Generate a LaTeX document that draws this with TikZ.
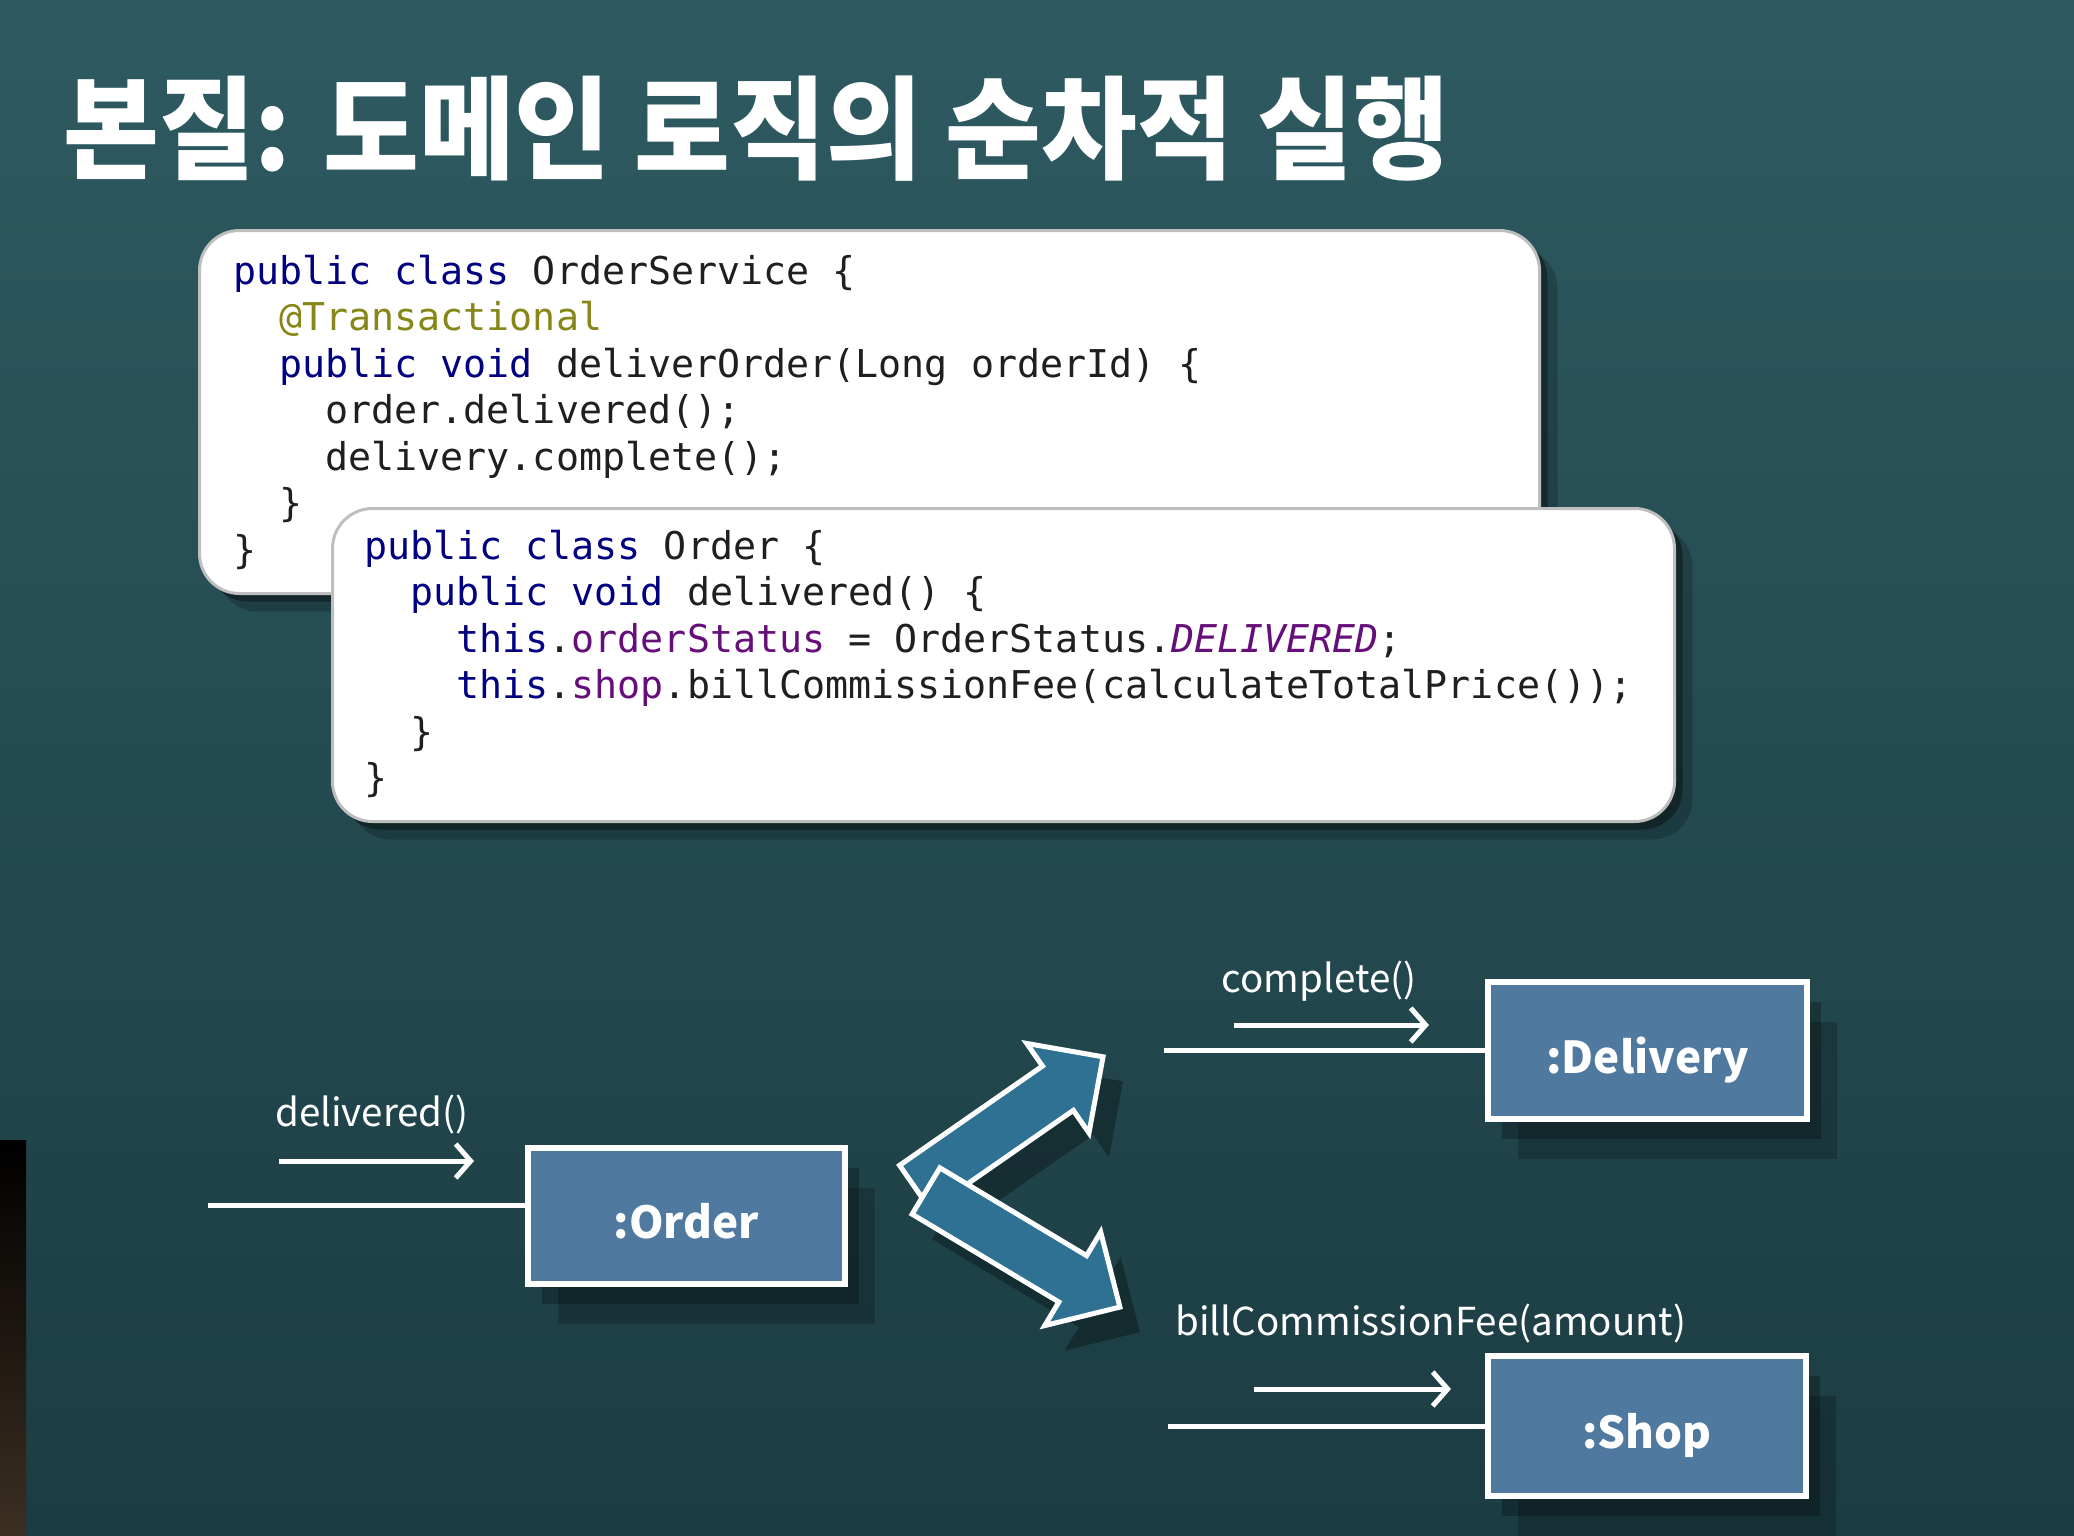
\documentclass[tikz,border=0pt]{standalone}
\usepackage{fontspec}
\usepackage{graphicx}
\usetikzlibrary{arrows.meta,shadows,positioning}
\newfontfamily\krfont{Noto Sans CJK KR}
\newfontfamily\codefont{DejaVu Sans Mono}

\definecolor{bgtop}{RGB}{46,90,97}
\definecolor{bgbot}{RGB}{27,60,66}
\definecolor{stripbrown}{RGB}{60,47,34}
\definecolor{boxblue}{RGB}{80,121,159}
\definecolor{arrowblue}{RGB}{46,113,146}
\definecolor{kwnavy}{RGB}{0,0,128}
\definecolor{fldpurple}{RGB}{102,14,122}
\definecolor{annolive}{RGB}{135,135,25}
\definecolor{codegray}{RGB}{190,190,190}

\newcommand\kw[1]{\textcolor{kwnavy}{#1}}
\newcommand\fld[1]{\textcolor{fldpurple}{#1}}
\newcommand\ind{\phantom{xx}}

\tikzset{
  codebox/.style={draw=codegray, line width=3pt, fill=white, rounded corners=40pt,
    drop shadow={shadow xshift=8pt, shadow yshift=-8pt, opacity=.35, fill=black},
    drop shadow={shadow xshift=18pt, shadow yshift=-18pt, opacity=.2, fill=black}},
  codetext/.style={anchor=base west, inner sep=0pt, text=black!88,
    font=\codefont\fontsize{38.3}{46.5}\selectfont},
  objbox/.style={draw=white, line width=6pt, fill=boxblue, inner sep=0pt, text=white,
    text height=45pt, text depth=0pt, font=\krfont\bfseries\fontsize{44}{50}\selectfont,
    drop shadow={shadow xshift=14pt, shadow yshift=-20pt, opacity=.25, fill=black},
    drop shadow={shadow xshift=30pt, shadow yshift=-40pt, opacity=.2, fill=black}},
  msgline/.style={draw=white, line width=5pt},
  msgarrow/.style={draw=white, line width=5pt, -{Straight Barb[length=15pt,width=34pt]}},
  msglabel/.style={anchor=base, inner sep=0pt, text=white, font=\krfont\fontsize{38.5}{44}\selectfont},
  blockarrow/.style={fill=arrowblue, draw=white, line width=5pt, line join=miter},
  arrowshadow/.style={fill=black, opacity=.3},
}

\begin{document}
\begin{tikzpicture}[x=1pt, y=-1pt]
    % background
    \useasboundingbox (0,0) rectangle (2074,1536);
    \shade[top color=bgtop, bottom color=bgbot] (0,0) rectangle (2074,1536);
    \shade[top color=black, bottom color=stripbrown] (0,1140) rectangle (26,1536);

    % title
    \node[anchor=base west, inner sep=0pt, text=white] (title) at (63,170)
        {\scalebox{0.93}[1]{\krfont\bfseries\fontsize{112}{130}\selectfont 본질: 도메인 로직의 순차적 실행}};

    % OrderService code
    \node[codebox, minimum width=1340pt, minimum height=363pt] (svcbox) at (869.5,412) {};
    \node[codetext] (svccode) at (233,284) {\begin{tabular}[t]{@{}l@{}}
        \kw{public class} OrderService \{\\
        \ind\textcolor{annolive}{@Transactional}\\
        \ind\kw{public void} deliverOrder(Long orderId) \{\\
        \ind\ind order.delivered();\\
        \ind\ind delivery.complete();\\
        \ind\}\\
        \}
    \end{tabular}};

    % Order code
    \node[codebox, minimum width=1342pt, minimum height=313pt] (ordbox) at (1003.5,665) {};
    \node[codetext] (ordcode) at (364,559) {\begin{tabular}[t]{@{}l@{}}
        \kw{public class} Order \{\\
        \ind\kw{public void} delivered() \{\\
        \ind\ind\kw{this}.\fld{orderStatus} = OrderStatus.\fld{\itshape DELIVERED};\\
        \ind\ind\kw{this}.\fld{shop}.billCommissionFee(calculateTotalPrice());\\
        \ind\}\\
        \}
    \end{tabular}};

    % objects
    \node[objbox, minimum width=317pt, minimum height=136pt] (order) at (686.5,1216) {:Order};
    \node[objbox, minimum width=319pt, minimum height=137pt] (delivery) at (1647.5,1050.5) {:Delivery};
    \node[objbox, minimum width=318pt, minimum height=140pt] (shop) at (1647,1426) {:Shop};

    % incoming lines
    \coordinate (orderin) at (208,1205);
    \coordinate (deliveryin) at (1164,1050.5);
    \coordinate (shopin) at (1168,1426);
    \draw[msgline] (orderin) -- (orderin -| order.west);
    \draw[msgline] (deliveryin) -- (delivery.west);
    \draw[msgline] (shopin) -- (shop.west);

    % messages
    \coordinate (ordermsgA) at (279,1161);
    \coordinate (ordermsgB) at (474,1161);
    \coordinate (deliverymsgA) at (1234,1025);
    \coordinate (deliverymsgB) at (1429,1025);
    \coordinate (shopmsgA) at (1254,1389);
    \coordinate (shopmsgB) at (1451,1389);
    \draw[msgarrow] (ordermsgA) -- (ordermsgB);
    \draw[msgarrow] (deliverymsgA) -- (deliverymsgB);
    \draw[msgarrow] (shopmsgA) -- (shopmsgB);
    \node[msglabel] (orderlbl) at (372,1126) {delivered()};
    \node[msglabel] (deliverylbl) at (1319,992) {complete()};
    \node[msglabel] (shoplbl) at (1431,1335) {billCommissionFee(amount)};

    % fork arrows: shadows first
    \begin{scope}[shift={(935,1212)}, rotate=34.8]
        \fill[arrowshadow] (0,-27) -- (174,-27) -- (174,-54.5) -- (229,0) -- (174,54.5) -- (174,27) -- (0,27) -- cycle;
    \end{scope}
    \begin{scope}[shift={(946,1216)}, rotate=-30.9]
        \fill[arrowshadow] (0,-27) -- (171,-27) -- (171,-54.5) -- (226,0) -- (171,54.5) -- (171,27) -- (0,27) -- cycle;
    \end{scope}
    % up to delivery
    \begin{scope}[shift={(915,1187.5)}, rotate=34.8]
        \draw[blockarrow] (0,-27) -- (174,-27) -- (174,-54.5) -- (229,0) -- (174,54.5) -- (174,27) -- (0,27) -- cycle;
    \end{scope}
    % down to shop
    \begin{scope}[shift={(926,1191)}, rotate=-30.9]
        \draw[blockarrow] (0,-27) -- (171,-27) -- (171,-54.5) -- (226,0) -- (171,54.5) -- (171,27) -- (0,27) -- cycle;
    \end{scope}
\end{tikzpicture}
\end{document}
